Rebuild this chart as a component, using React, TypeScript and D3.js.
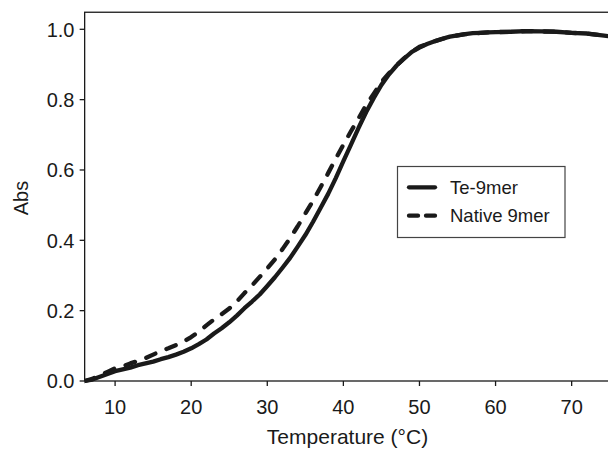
import React from "react";
import * as d3 from "d3";

const teTemps = [6, 7, 8, 9, 10, 11, 12, 13, 14, 15, 16, 17, 18, 19, 20, 21, 22, 23, 24, 25, 26, 27, 28, 29, 30, 31, 32, 33, 34, 35, 36, 37, 38, 39, 40, 41, 42, 43, 44, 45, 46, 47, 48, 49, 50, 51, 52, 53, 54, 55, 56, 57, 58, 59, 60, 62, 64, 66, 68, 70, 72, 74, 75];
const teAbs = [0.0, 0.004, 0.012, 0.02, 0.028, 0.033, 0.038, 0.045, 0.05, 0.055, 0.062, 0.068, 0.075, 0.083, 0.093, 0.105, 0.118, 0.135, 0.15, 0.167, 0.186, 0.207, 0.226, 0.246, 0.27, 0.295, 0.322, 0.35, 0.382, 0.415, 0.452, 0.492, 0.532, 0.577, 0.625, 0.672, 0.72, 0.765, 0.805, 0.842, 0.872, 0.897, 0.917, 0.936, 0.948, 0.958, 0.966, 0.973, 0.979, 0.983, 0.986, 0.989, 0.99, 0.991, 0.992, 0.993, 0.995, 0.994, 0.993, 0.99, 0.988, 0.983, 0.98];

const nativeTemps = [6, 7, 8, 9, 10, 11, 12, 13, 14, 15, 16, 17, 18, 19, 20, 21, 22, 23, 24, 25, 26, 27, 28, 29, 30, 31, 32, 33, 34, 35, 36, 37, 38, 39, 40, 41, 42, 43, 44, 45, 46, 47, 48, 49, 50, 52, 54, 56, 58, 60, 62, 64, 66, 68, 70, 72, 74, 75];
const nativeAbs = [0.0, 0.006, 0.016, 0.026, 0.036, 0.042, 0.05, 0.057, 0.065, 0.075, 0.085, 0.093, 0.102, 0.112, 0.125, 0.14, 0.158, 0.175, 0.19, 0.206, 0.226, 0.25, 0.272, 0.296, 0.32, 0.346, 0.375, 0.406, 0.44, 0.476, 0.512, 0.551, 0.591, 0.632, 0.672, 0.71, 0.747, 0.785, 0.817, 0.85, 0.875, 0.898, 0.918, 0.936, 0.95, 0.966, 0.979, 0.986, 0.99, 0.992, 0.993, 0.995, 0.994, 0.993, 0.99, 0.988, 0.983, 0.98];

const xTicks = [10, 20, 30, 40, 50, 60, 70];
const yTicks = [0, 0.2, 0.4, 0.6, 0.8, 1.0];
const seriesNames = ["Te-9mer", "Native 9mer"];

export default function App() {
  const W = 608, H = 449;
  const x = d3.scaleLinear().domain([6, 75]).range([84.66, 609.7]);
  const y = d3.scaleLinear().domain([0, 1]).range([381, 29.3]);
  const yTop = y(1.0485);
  const xL = x(6), xR = x(75.2), yB = y(0);
  const ink = "#1a1a1a";
  const font = "Liberation Sans, Arial, Helvetica, sans-serif";

  const line = d3.line<[number, number]>().x(d => x(d[0])).y(d => y(d[1])).curve(d3.curveLinear);
  const teData = teTemps.map((t, i) => [t, teAbs[i]] as [number, number]);
  const naData = nativeTemps.map((t, i) => [t, nativeAbs[i]] as [number, number]);

  return (
    <svg width={W} height={H} style={{ position: "absolute", left: 0, top: 0, background: "#fff" }} fontFamily={font}>
      <defs>
        <clipPath id="plot">
          <rect x={xL} y={yTop} width={xR - xL} height={yB - yTop + 4} />
        </clipPath>
      </defs>
      <rect x={0} y={0} width={W} height={H} fill="#fff" />
      <rect x={xL} y={yTop} width={xR - xL} height={yB - yTop} fill="none" stroke={ink} strokeWidth={1.3} />
      {yTicks.map(v => (
        <g key={"y" + v}>
          <line x1={xL - 5} x2={xL} y1={y(v)} y2={y(v)} stroke={ink} strokeWidth={1.3} />
          <text x={74.5} y={y(v) + 7.2} textAnchor="end" fontSize={20} fill={ink}>{v.toFixed(1)}</text>
        </g>
      ))}
      {xTicks.map(t => (
        <g key={"x" + t}>
          <line x1={x(t)} x2={x(t)} y1={yB} y2={yB + 5} stroke={ink} strokeWidth={1.3} />
          <text x={x(t)} y={413.5} textAnchor="middle" fontSize={20} fill={ink}>{t}</text>
        </g>
      ))}
      <text x={347.5} y={444} textAnchor="middle" fontSize={21} fill={ink}>Temperature (°C)</text>
      <text transform={`translate(28,198) rotate(-90)`} textAnchor="middle" fontSize={20} fill={ink}>Abs</text>
      <g clipPath="url(#plot)">
        <path d={line(naData) || ""} fill="none" stroke={ink} strokeWidth={4.3} strokeDasharray="10 12" strokeLinecap="round" strokeLinejoin="round" />
        <path d={line(teData) || ""} fill="none" stroke={ink} strokeWidth={4.3} strokeLinecap="round" strokeLinejoin="round" />
      </g>
      <rect x={397.5} y={166.5} width={167.5} height={71} fill="#fff" stroke="#444" strokeWidth={1.2} />
      <line x1={409} x2={435} y1={187.3} y2={187.3} stroke={ink} strokeWidth={4.3} strokeLinecap="round" />
      <line x1={409} x2={435} y1={215.7} y2={215.7} stroke={ink} strokeWidth={4.3} strokeLinecap="round" strokeDasharray="9 8" />
      <text x={450} y={194} fontSize={18.5} fill={ink}>{seriesNames[0]}</text>
      <text x={450} y={222.3} fontSize={18.5} fill={ink}>{seriesNames[1]}</text>
    </svg>
  );
}
